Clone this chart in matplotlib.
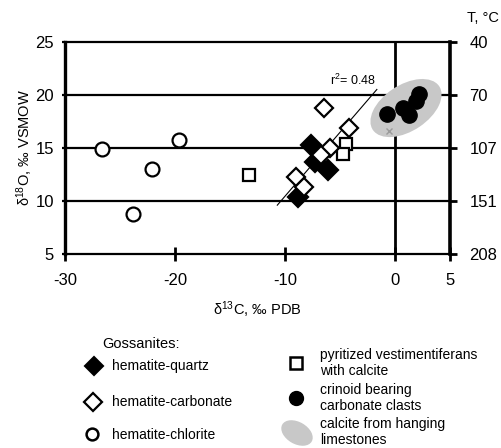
import matplotlib
matplotlib.use("Agg")
import matplotlib.pyplot as plt
from matplotlib.patches import Ellipse

plt.rcParams['font.family'] = ['Liberation Sans', 'DejaVu Sans']
plt.rcParams['mathtext.fontset'] = 'custom'
plt.rcParams['mathtext.rm'] = 'Liberation Sans'
plt.rcParams['mathtext.it'] = 'Liberation Sans:italic'

# ---- data (d13C, d18O) ----
hq_x = [-7.6, -7.3, -6.05, -8.8]
hq_y = [15.3, 13.7, 12.9, 10.4]
hc_x = [-6.45, -4.15, -5.9, -6.7, -9.0, -8.3]
hc_y = [18.8, 16.9, 15.0, 14.3, 12.3, 11.35]
chl_x = [-26.6, -22.1, -19.6, -23.85]
chl_y = [14.9, 13.0, 15.75, 8.75]
pyr_x = [-13.25, -4.45, -4.75]
pyr_y = [12.45, 15.4, 14.4]
cri_x = [-0.7, 0.76, 1.3, 2.2, 1.9]
cri_y = [18.2, 18.8, 18.1, 20.1, 19.4]
lime_x = [-0.55, 2.1]
lime_y = [16.6, 19.4]
reg_x = [-10.7, -1.65]
reg_y = [9.6, 20.5]
r2_label = "r$^2$= 0.48"

x_ticks = [-30, -20, -10, 0, 5]
y_ticks = [5, 10, 15, 20, 25]
t_labels = ['208', '151', '107', '70', '40']

fig = plt.figure(figsize=(5.01, 4.48), dpi=100)
ax = fig.add_axes([65/501, 1-254/448, (450-65)/501, (254-41.7)/448])
ax.set_xlim(-30, 5)
ax.set_ylim(5, 25)

lw = 2.0
for y in [10, 15, 20]:
    ax.axhline(y, color='black', lw=1.6, zorder=1)
ax.axvline(0, color='black', lw=lw, zorder=1)
for s in ['top', 'bottom']:
    ax.spines[s].set_linewidth(1.6)
ax.spines['left'].set_linewidth(2.4)
ax.spines['right'].set_linewidth(2.6)

ell = Ellipse((1.0, 18.75), width=7.3, height=4.3, angle=35,
              facecolor='#c8c8c8', edgecolor='none', zorder=2)
ax.add_patch(ell)
ax.plot(lime_x, lime_y, 'x', color='#9a9a9a', ms=5, mew=1, zorder=3)

ax.plot(reg_x, reg_y, color='black', lw=0.8, zorder=3)
ax.text(reg_x[1] - 0.1, reg_y[1] + 0.1, r2_label, fontsize=9, ha='right', va='bottom')

mew = 1.6
ax.plot(pyr_x, pyr_y, 's', ms=9, mfc='white', mec='black', mew=mew, ls='none', zorder=4)
ax.plot(hq_x, hq_y, 'D', ms=10, mfc='black', mec='black', mew=mew, ls='none', zorder=5)
ax.plot(hc_x, hc_y, 'D', ms=9.5, mfc='white', mec='black', mew=mew, ls='none', zorder=6)
ax.plot(chl_x, chl_y, 'o', ms=10, mfc='white', mec='black', mew=mew, ls='none', zorder=4)
ax.plot(cri_x, cri_y, 'o', ms=11, mfc='black', mec='black', ls='none', zorder=5)

ax.set_xticks(x_ticks)
ax.set_xticklabels([str(v) for v in x_ticks])
ax.set_yticks(y_ticks)
ax.set_yticklabels([str(v) for v in y_ticks])
ax.tick_params(axis='x', direction='inout', length=10, width=2, labelsize=12, pad=9)
ax.tick_params(axis='y', direction='out', length=2, width=1.6, labelsize=12, pad=6)

ax2 = ax.twinx()
ax2.set_ylim(5, 25)
ax2.set_yticks(y_ticks)
ax2.set_yticklabels(t_labels)
ax2.tick_params(axis='y', direction='out', length=5, width=2, labelsize=12, pad=9)
for s in ax2.spines.values():
    s.set_visible(False)

ax.set_xlabel('δ$^{13}$C, ‰ PDB', fontsize=10.5, labelpad=8)
ax.set_ylabel('δ$^{18}$O, ‰ VSMOW', fontsize=10.5, labelpad=0)
fig.text(483/501, 1-18/448, 'T, °C', fontsize=10.5, ha='center', va='center')

# ---- legend (manual) ----
lg = fig.add_axes([0, 0, 1, 1], zorder=-1)
lg.set_xlim(0, 501)
lg.set_ylim(448, 0)
lg.axis('off')
fsl = 10
fsr = 10
ls_r = 1.15
lg.text(102, 348.5, 'Gossanites:', fontsize=10.5, va='baseline', ha='left')
lg.plot([94], [366], 'D', ms=9.5, mfc='black', mec='black', mew=1.5)
lg.text(112, 366, 'hematite-quartz', fontsize=fsl, va='center')
lg.plot([93], [402], 'D', ms=9, mfc='white', mec='black', mew=1.6)
lg.text(112, 402, 'hematite-carbonate', fontsize=fsl, va='center')
lg.plot([92], [434], 'o', ms=8.5, mfc='white', mec='black', mew=1.8)
lg.text(112, 435, 'hematite-chlorite', fontsize=fsl, va='center')
lg.plot([296], [363], 's', ms=8.5, mfc='white', mec='black', mew=1.8)
lg.text(320, 363, 'pyritized vestimentiferans\nwith calcite', fontsize=fsr, va='center', linespacing=ls_r)
lg.plot([296], [398], 'o', ms=10, mfc='black', mec='black')
lg.text(320, 398, 'crinoid bearing\ncarbonate clasts', fontsize=fsr, va='center', linespacing=ls_r)
lg.add_patch(Ellipse((297, 433), width=34, height=22, angle=30, facecolor='#c8c8c8', edgecolor='none'))
lg.text(320, 432, 'calcite from hanging\nlimestones', fontsize=fsr, va='center', linespacing=ls_r)

fig.savefig('out.png', dpi=100)
